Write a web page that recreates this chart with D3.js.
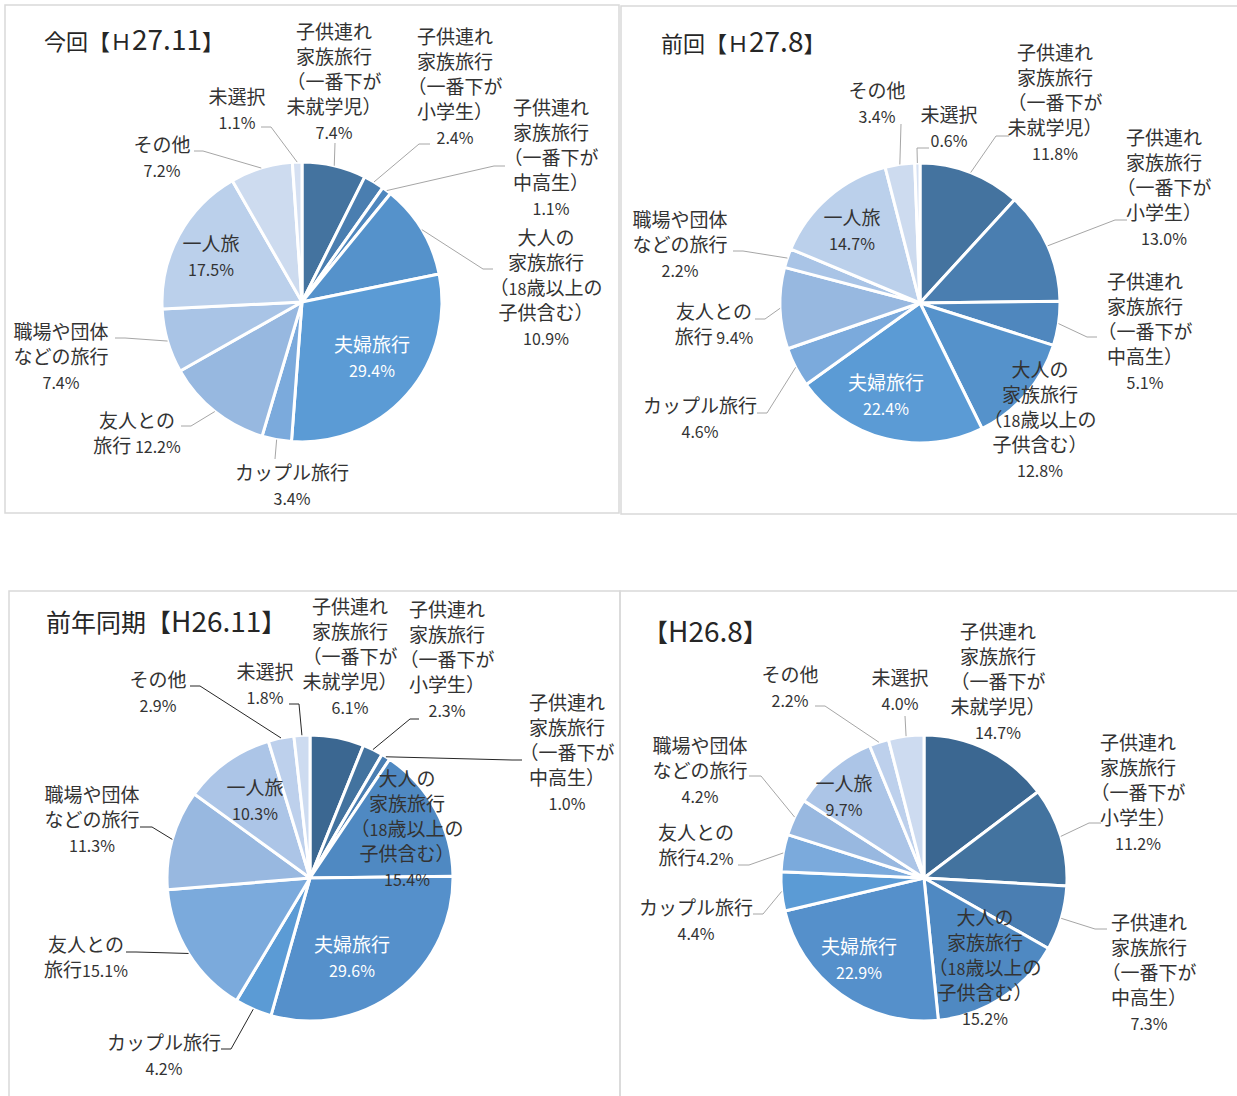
<!DOCTYPE html>
<html>
<head>
<meta charset="utf-8">
<script src="https://cdn.jsdelivr.net/npm/d3@7"></script>
<style>
  body { margin: 0; background: #fff; }
  svg { display: block; font-family: "Noto Sans CJK JP", "Noto Sans", sans-serif; }
  text { white-space: pre; }
</style>
</head>
<body>
<svg id="chart" width="1237" height="1096"></svg>
<script>
// ---- data ----
const categoryLines = [
	["子供連れ", "家族旅行", "（一番下が", "未就学児）"],
	["子供連れ", "家族旅行", "（一番下が", "小学生）"],
	["子供連れ", "家族旅行", "（一番下が", "中高生）"],
	["大人の", "家族旅行", "（18歳以上の", "子供含む）"],
	["夫婦旅行"],
	["カップル旅行"],
	["友人との", "旅行"],
	["職場や団体", "などの旅行"],
	["一人旅"],
	["その他"],
	["未選択"]
];
const inlinePct = 6; // 友人との旅行: the share sits on the last line

const periods = ["今回【Ｈ27.11】", "前回【Ｈ27.8】", "前年同期【H26.11】", "【H26.8】"];

const sharesH2711 = [7.4, 2.4, 1.1, 10.9, 29.4, 3.4, 12.2, 7.4, 17.5, 7.2, 1.1];
const sharesH278  = [11.8, 13.0, 5.1, 12.8, 22.4, 4.6, 9.4, 2.2, 14.7, 3.4, 0.6];
const sharesH2611 = [6.1, 2.3, 1.0, 15.4, 29.6, 4.2, 15.1, 11.3, 10.3, 2.9, 1.8];
const sharesH268  = [14.7, 11.2, 7.3, 15.2, 22.9, 4.4, 4.2, 4.2, 9.7, 2.2, 4.0];

// ---- styles ----
const paletteA = ["#44739f", "#4a7eb0", "#4f87be", "#5592cb", "#5b9bd5", "#7baadc",
	"#97b8e0", "#a9c4e6", "#bbd0eb", "#cddbef", "#d5e0f2"];
const paletteB = ["#3b6791", "#43739f", "#4a7eb2", "#4f89c2", "#5590cb", "#5b9bd5",
	"#7baadc", "#98b8e0", "#acc5e7", "#bdd0ec", "#cddbf0"];

const textColor = "#333";
const cjkSize = 19, latinSize = 16, lineGap = 25;

// label layout, relative to the pie centre:
// [x, y of first line, anchor x, anchor y, stub]  (no anchor = no leader)
const layoutH2711 = [
	[32, -270, 33, -159, 0],
	[153, -265, 128, -158, -11],
	[249, -194, 203, -136, -11],
	[244, -64, 191, -33, -10],
	[70, 43],
	[-10, 171, -27, 157, 0],
	[-165, 119, -121, 124, 10],
	[-241, 30, -187, 36, 10],
	[-91, -58],
	[-140, -157, -108, -151, 9],
	[-65, -205, -41, -175, 10]
];
const layoutH278 = [
	[135, -250, 89, -167, -13],
	[244, -165, 207, -83, -12],
	[225, -21, 177, 34, -10],
	[120, 67],
	[-34, 80],
	[-220, 103, -163, 110, 10],
	[-206, 9, -165, 16, 10],
	[-240, -83, -187, -52, 10],
	[-68, -85],
	[-43, -212, -19, -179, 0],
	[29, -188, 9, -155, -12]
];
const layoutH2611 = [
	[40, -271],
	[137, -268, 109, -159, -9],
	[257, -175, 212, -118, -10],
	[97, -99],
	[42, 67],
	[-146, 165, -89, 171, 10],
	[-224, 67, -184, 74, 10],
	[-218, -83, -170, -51, 12],
	[-55, -90],
	[-152, -198, -120, -192, 10],
	[-45, -206, -21, -174, 10]
];
const layoutH268 = [
	[74, -246],
	[214, -135, 177, -55, -12],
	[225, 45, 183, 51, -12],
	[61, 40],
	[-65, 69],
	[-228, 30, -171, 36, 10],
	[-228, -45, -186, -13, 11],
	[-224, -132, -175, -102, 12],
	[-80, -94],
	[-134, -203, -109, -172, 10],
	[-24, -200, -19, -162, 0]
];

const panels = [
	{ title: periods[0], values: sharesH2711, palette: paletteA, layout: layoutH2711,
	  frame: [5, 5, 614, 508], titleX: 44, titleY: 50, titleCjk: 22,
	  cx: 302, cy: 302, r: 140, leaderColor: "#a6a6a6", sep: " " },
	{ title: periods[1], values: sharesH278, palette: paletteA, layout: layoutH278,
	  frame: [621, 6, 640, 508], titleX: 661, titleY: 52, titleCjk: 22,
	  cx: 920, cy: 303, r: 140, leaderColor: "#a6a6a6", sep: " " },
	{ title: periods[2], values: sharesH2611, palette: paletteB, layout: layoutH2611,
	  frame: [9, 591, 611, 520], titleX: 46, titleY: 632, titleCjk: 25,
	  cx: 310, cy: 878, r: 143, leaderColor: "#262626", sep: "" },
	{ title: periods[3], values: sharesH268, palette: paletteB, layout: layoutH268,
	  frame: [620, 591, 640, 520], titleX: 643, titleY: 642, titleCjk: 25,
	  cx: 924, cy: 878, r: 143, leaderColor: "#a6a6a6", sep: "" }
];

const svg = d3.select("#chart");

// split a line into CJK and latin runs so the digits get their own size
function writeLine(textSel, str, cjk, latin) {
	const runs = str.match(/[\x20-\x7e]+|[^\x20-\x7e]+/g) || [];
	runs.forEach(run => {
		textSel.append("tspan")
			.attr("font-size", /[\x20-\x7e]/.test(run[0]) ? latin : cjk)
			.text(run);
	});
}

const pie = d3.pie().sort(null).value(d => d);

panels.forEach(p => {
	const g = svg.append("g");

	// frame
	g.append("rect")
		.attr("x", p.frame[0]).attr("y", p.frame[1])
		.attr("width", p.frame[2]).attr("height", p.frame[3])
		.attr("fill", "none")
		.attr("stroke", "#d9d9d9")
		.attr("stroke-width", 1.5);

	// title
	const title = g.append("text")
		.attr("x", p.titleX).attr("y", p.titleY)
		.attr("fill", "#262626");
	writeLine(title, p.title, p.titleCjk, 28);

	const arcs = pie(p.values);
	const arc = d3.arc().innerRadius(0).outerRadius(p.r);
	const rim = d3.arc().innerRadius(p.r).outerRadius(p.r);

	const pieG = g.append("g").attr("transform", `translate(${p.cx},${p.cy})`);

	pieG.selectAll("path.slice")
		.data(arcs)
		.enter().append("path")
		.attr("class", "slice")
		.attr("d", arc)
		.attr("fill", (d, i) => p.palette[i])
		.attr("stroke", "#fff")
		.attr("stroke-width", 3)
		.attr("stroke-linejoin", "round");

	// leader lines
	arcs.forEach((d, i) => {
		const L = p.layout[i];
		if (L.length < 5) return;
		const [px, py] = rim.centroid(d);
		const path = d3.path();
		path.moveTo(L[2], L[3]);
		if (L[4] !== 0) path.lineTo(L[2] + L[4], L[3]);
		path.lineTo(px, py);
		pieG.append("path")
			.attr("d", path.toString())
			.attr("fill", "none")
			.attr("stroke", p.leaderColor)
			.attr("stroke-width", 1);
	});

	// labels
	arcs.forEach((d, i) => {
		const L = p.layout[i];
		const pct = d3.format(".1f")(d.data) + "%";
		let lines = categoryLines[i].slice();
		if (i === inlinePct) {
			lines[lines.length - 1] = lines[lines.length - 1] + p.sep + pct;
		} else {
			lines.push(pct);
		}
		const fill = i === 4 ? "#fff" : textColor;
		lines.forEach((line, k) => {
			const t = pieG.append("text")
				.attr("x", L[0])
				.attr("y", L[1] + k * lineGap + 6.5)
				.attr("text-anchor", "middle")
				.attr("fill", fill);
			writeLine(t, line, cjkSize, latinSize);
		});
	});
});
</script>
</body>
</html>
